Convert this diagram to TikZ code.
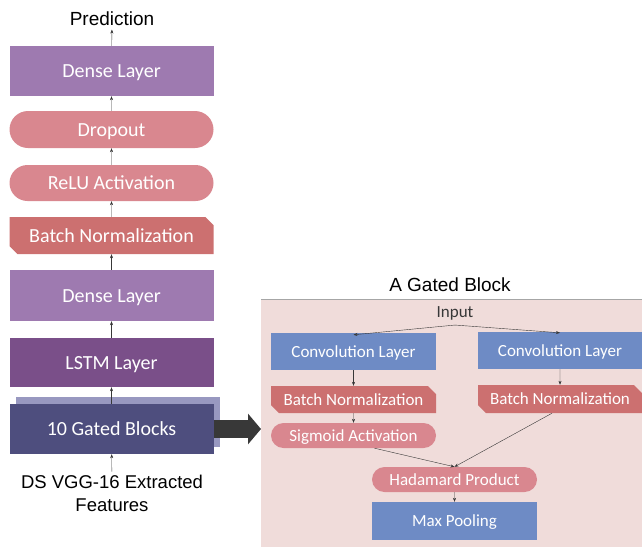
\documentclass[tikz,border=0pt]{standalone}
\usepackage{fontspec}
\setmainfont{Liberation Sans}
\newfontfamily\carl{Carlito}
\usetikzlibrary{arrows.meta,shapes.misc}
\definecolor{densecol}{HTML}{9E7AB0}
\definecolor{pillcol}{HTML}{D9878F}
\definecolor{bncol}{HTML}{CC7070}
\definecolor{lstmcol}{HTML}{7A4F89}
\definecolor{gatecol}{HTML}{4E4E7E}
\definecolor{shadowcol}{HTML}{9898C0}
\definecolor{convcol}{HTML}{6E8BC5}
\definecolor{panelcol}{HTML}{F0DCDA}
\definecolor{linecol}{HTML}{383838}
\tikzset{
  layer/.style={rectangle, inner sep=0pt, text=white, minimum width=204pt},
  bigtext/.style={font=\carl\fontsize{20}{24}\selectfont, text height=13pt, text depth=0pt},
  smalltext/.style={font=\carl\fontsize{17}{20}\selectfont, text height=11pt, text depth=0pt},
  pill/.style={rounded rectangle, fill=pillcol, inner sep=0pt, text=white},
  bnorm/.style={chamfered rectangle, chamfered rectangle corners={north east,south west},
    chamfered rectangle xsep=4pt, chamfered rectangle ysep=4pt, fill=bncol, inner sep=0pt, text=white},
  flow/.style={-{Stealth[length=4pt,width=3pt]}, linecol, thin},
}
\begin{document}
\begin{tikzpicture}[x=1pt,y=-1pt]
        \useasboundingbox (0,0) rectangle (642,547);
        % left column
        \node[font=\fontsize{19}{22}\selectfont] (pred) at (112, 19) {Prediction};
        \node[layer, bigtext, fill=densecol, minimum height=50pt] (dense1) at (111.5, 71) {Dense Layer};
        \node[pill, bigtext, minimum width=204pt, minimum height=37pt] (drop) at (111.5, 129.5) {Dropout};
        \node[pill, bigtext, minimum width=204pt, minimum height=36pt] (relu) at (111.5, 183) {ReLU Activation};
        \node[bnorm, bigtext, minimum width=204pt, minimum height=37pt] (bn) at (111.5, 235.5) {Batch Normalization};
        \node[layer, bigtext, fill=densecol, minimum height=51pt] (dense2) at (111.5, 295.5) {Dense Layer};
        \node[layer, bigtext, fill=lstmcol, minimum height=49pt] (lstm) at (111.5, 362.5) {LSTM Layer};
        \node[layer, fill=shadowcol, minimum height=50pt] (shadow) at (117.5, 422) {};
        \node[layer, bigtext, fill=gatecol, minimum height=50pt] (gated) at (111.5, 429) {10 Gated Blocks};
        \node[font=\fontsize{18.5}{23}\selectfont, align=center] (feat) at (112, 493.5) {DS VGG-16 Extracted\\Features};
        \draw[flow] (dense1) -- (pred);
        \draw[flow] (drop) -- (dense1);
        \draw[flow] (relu) -- (drop);
        \draw[flow] (bn) -- (relu);
        \draw[flow] (dense2) -- (bn);
        \draw[flow] (lstm) -- (dense2);
        \draw[flow] (gated.north) -- (lstm);
        \draw[flow] (feat) -- (gated);
        % the gated block
        \fill[panelcol] (261,299) rectangle (642,547);
        \draw[gray!70, thin] (261,299) -- (642,299);
        \node[font=\fontsize{19}{22}\selectfont] (title) at (450, 285) {A Gated Block};
        \node[smalltext, text=linecol] (inp) at (455, 312) {Input};
        \node[layer, smalltext, fill=convcol, minimum width=165pt, minimum height=37pt] (convL) at (353.5, 351.5) {Convolution Layer};
        \node[layer, smalltext, fill=convcol, minimum width=164pt, minimum height=37pt] (convR) at (560, 350.5) {Convolution Layer};
        \node[bnorm, smalltext, minimum width=165pt, minimum height=27pt] (bnL) at (353.5, 399.5) {Batch Normalization};
        \node[bnorm, smalltext, minimum width=164pt, minimum height=28pt] (bnR) at (560, 399) {Batch Normalization};
        \node[pill, smalltext, minimum width=165pt, minimum height=25pt] (sig) at (353.5, 435.5) {Sigmoid Activation};
        \node[pill, smalltext, minimum width=165pt, minimum height=25pt] (had) at (454.5, 479.5) {Hadamard Product};
        \node[layer, smalltext, fill=convcol, minimum width=165pt, minimum height=38pt] (maxp) at (454.5, 521) {Max Pooling};
        \draw[flow] ([yshift=-4pt]inp.south) -- ([yshift=-2pt]convL.north);
        \draw[flow] ([yshift=-4pt]inp.south) -- ([yshift=-1pt]convR.north);
        \draw[flow] (convL) -- (bnL);
        \draw[flow] (convR) -- (bnR);
        \draw[flow] (bnL) -- (sig);
        \draw[flow] ([xshift=21pt]sig.south) -- (had.north);
        \draw[flow] ([xshift=-8pt]bnR.south) -- (had.north);
        \draw[flow] (had) -- (maxp);
        % big arrow
        \draw[linecol, line width=18pt, -{Triangle[length=13pt,width=30pt]}] (gated.east) -- (261, 429);
\end{tikzpicture}
\end{document}
